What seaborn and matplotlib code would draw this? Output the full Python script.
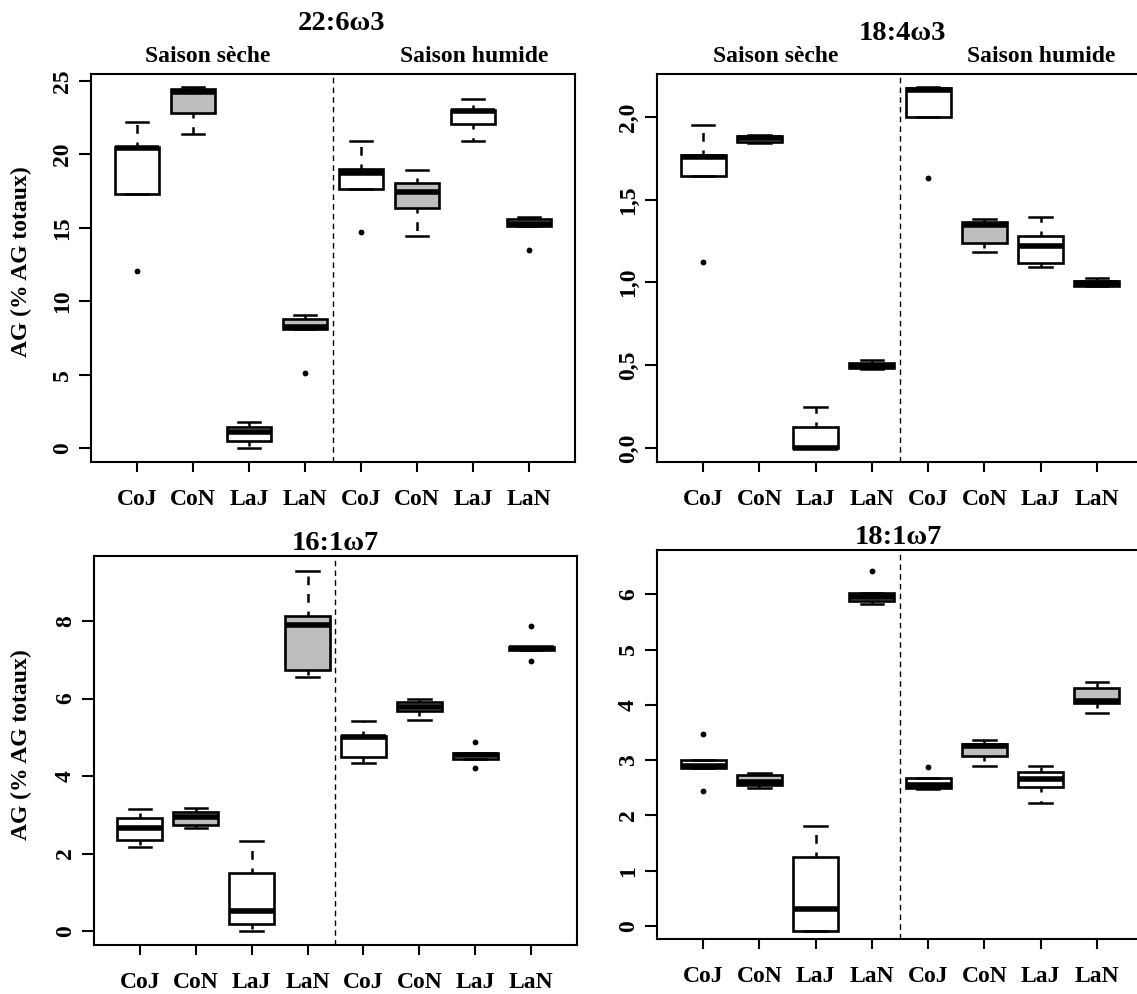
import seaborn as sns
import matplotlib.pyplot as plt
import matplotlib.transforms as mtransforms
import pandas as pd

groups = ["CoJ", "CoN", "LaJ", "LaN", "CoJ", "CoN", "LaJ", "LaN"]
fills = ["white", "#bebebe", "white", "#bebebe", "white", "#bebebe", "white", "#bebebe"]

# 22:6w3  (whisker low, q1, median, q3, whisker high)
dha_wlo = [17.3, 21.37, 0.0, 8.08, 17.62, 14.46, 20.9, 15.1]
dha_q1 = [17.3, 22.8, 0.48, 8.09, 17.62, 16.33, 22.07, 15.14]
dha_med = [20.42, 24.27, 1.11, 8.22, 18.76, 17.42, 22.95, 15.24]
dha_q3 = [20.48, 24.43, 1.41, 8.77, 19.03, 18.07, 23.02, 15.58]
dha_whi = [22.23, 24.61, 1.8, 9.05, 20.9, 18.94, 23.75, 15.74]
dha_out_pos = [0, 3, 4, 7]
dha_out_val = [12.08, 5.13, 14.69, 13.49]

# 18:4w3
sda_wlo = [1.643, 1.845, 0.0, 0.478, 2.0, 1.186, 1.096, 0.98]
sda_q1 = [1.643, 1.85, 0.0, 0.481, 2.0, 1.24, 1.116, 0.981]
sda_med = [1.76, 1.871, 0.0, 0.495, 2.165, 1.35, 1.222, 0.995]
sda_q3 = [1.77, 1.887, 0.125, 0.512, 2.173, 1.367, 1.281, 1.011]
sda_whi = [1.95, 1.891, 0.25, 0.532, 2.18, 1.382, 1.394, 1.025]
sda_out_pos = [0, 4]
sda_out_val = [1.122, 1.633]

# 16:1w7
pal_wlo = [2.16, 2.67, 0.0, 6.56, 4.34, 5.46, 4.44, 7.25]
pal_q1 = [2.35, 2.75, 0.17, 6.75, 4.5, 5.69, 4.44, 7.25]
pal_med = [2.67, 2.95, 0.52, 7.9, 5.0, 5.79, 4.54, 7.3]
pal_q3 = [2.93, 3.06, 1.51, 8.14, 5.04, 5.92, 4.6, 7.34]
pal_whi = [3.14, 3.18, 2.32, 9.29, 5.42, 6.0, 4.6, 7.34]
pal_out_pos = [6, 6, 7, 7]
pal_out_val = [4.89, 4.2, 7.87, 6.97]

# 18:1w7
vac_wlo = [2.86, 2.5, -0.09, 5.82, 2.47, 2.89, 2.22, 3.85]
vac_q1 = [2.86, 2.55, -0.09, 5.88, 2.49, 3.08, 2.52, 4.03]
vac_med = [2.9, 2.6, 0.30, 5.95, 2.55, 3.25, 2.66, 4.07]
vac_q3 = [3.01, 2.73, 1.24, 6.02, 2.67, 3.29, 2.79, 4.31]
vac_whi = [3.01, 2.76, 1.8, 6.02, 2.67, 3.36, 2.89, 4.41]
vac_out_pos = [0, 0, 3, 4]
vac_out_val = [3.48, 2.45, 6.42, 2.88]

panels = [
    ("22:6ω3", [dha_wlo, dha_q1, dha_med, dha_q3, dha_whi], dha_out_pos, dha_out_val,
     [0, 5, 10, 15, 20, 25], ["0", "5", "10", "15", "20", "25"], (-0.95, 25.48)),
    ("18:4ω3", [sda_wlo, sda_q1, sda_med, sda_q3, sda_whi], sda_out_pos, sda_out_val,
     [0, 0.5, 1.0, 1.5, 2.0], ["0,0", "0,5", "1,0", "1,5", "2,0"], (-0.085, 2.26)),
    ("16:1ω7", [pal_wlo, pal_q1, pal_med, pal_q3, pal_whi], pal_out_pos, pal_out_val,
     [0, 2, 4, 6, 8], ["0", "2", "4", "6", "8"], (-0.36, 9.68)),
    ("18:1ω7", [vac_wlo, vac_q1, vac_med, vac_q3, vac_whi], vac_out_pos, vac_out_val,
     [0, 1, 2, 3, 4, 5, 6], ["0", "1", "2", "3", "4", "5", "6"], (-0.235, 6.80)),
]

plt.rcParams["font.family"] = ["Liberation Serif", "DejaVu Serif"]
plt.rcParams["font.weight"] = "bold"
plt.rcParams["axes.linewidth"] = 1.5

W, H = 1137, 994
fig = plt.figure(figsize=(W / 100, H / 100), dpi=100)

# pixel boxes (left, top, right, bottom)
boxes = [(91, 74, 575, 462), (657, 74, 1143, 462), (94, 556, 577, 945), (657, 550, 1143, 939)]
# title: x in category units, y in figure pixels from top
title_xy = [(3.65, 24), (3.54, 34), (3.49, 543), (3.47, 538)]

order = [str(i) for i in range(8)]
pal = dict(zip(order, fills))

for k, (title, stats, opos, oval, yt, ytl, ylim) in enumerate(panels):
    x0, y0, x1, y1 = boxes[k]
    ax = fig.add_axes([x0 / W, 1 - y1 / H, (x1 - x0) / W, (y1 - y0) / H])

    rows = []
    for i in range(8):
        for s in stats:
            rows.append((str(i), s[i]))
    df = pd.DataFrame(rows, columns=["pos", "val"])
    out = pd.DataFrame({"pos": [str(p) for p in opos], "val": oval})

    sns.boxplot(data=df, x="pos", y="val", hue="pos", order=order, hue_order=order,
                palette=pal, saturation=1, width=0.8, whis=(0, 100),
                linecolor="black", linewidth=1.9, legend=False, ax=ax,
                medianprops=dict(linewidth=4, color="black"),
                whiskerprops=dict(linestyle=(1.5, (3.5, 3.5)), linewidth=1.8, color="black"),
                capprops=dict(linewidth=1.8, color="black"))
    sns.stripplot(data=out, x="pos", y="val", order=order, jitter=False,
                  color="black", size=4.2, ax=ax, zorder=5)

    ax.axvline(3.5, color="black", linewidth=1, linestyle=(0, (4, 3)))
    ax.set_xlim(-0.82, 7.82)
    ax.set_ylim(*ylim)
    ax.set_xticks(range(8))
    ax.set_xticklabels(groups, fontsize=17, fontweight="bold")
    ax.set_yticks(yt)
    ax.set_yticklabels(ytl, fontsize=17, fontweight="bold", rotation=90, va="center")
    ax.tick_params(axis="x", length=7.5, width=1.5, pad=12)
    ax.tick_params(axis="y", length=9, width=1.5, pad=4)
    ax.set_xlabel("")
    ax.set_ylabel("")
    for sp in ax.spines.values():
        sp.set_linewidth(1.5)
        sp.set_color("black")

    trans = mtransforms.blended_transform_factory(ax.transData, fig.transFigure)
    tx, ty = title_xy[k]
    ax.text(tx, 1 - ty / H, title, transform=trans, fontsize=20.5,
            fontweight="bold", ha="center", va="center", clip_on=False)

    if k < 2:
        sx = [208, 474] if k == 0 else [776, 1041]
        fig.text(sx[0] / W, 1 - 57 / H, "Saison sèche", fontsize=17, fontweight="bold",
                 ha="center", va="center")
        fig.text(sx[1] / W, 1 - 57 / H, "Saison humide", fontsize=17, fontweight="bold",
                 ha="center", va="center")

fig.text(21 / W, 1 - 262 / H, "AG (% AG totaux)", rotation=90, fontsize=17,
         fontweight="bold", ha="center", va="center")
fig.text(21 / W, 1 - 745 / H, "AG (% AG totaux)", rotation=90, fontsize=17,
         fontweight="bold", ha="center", va="center")

fig.savefig("out.png", dpi=100)
